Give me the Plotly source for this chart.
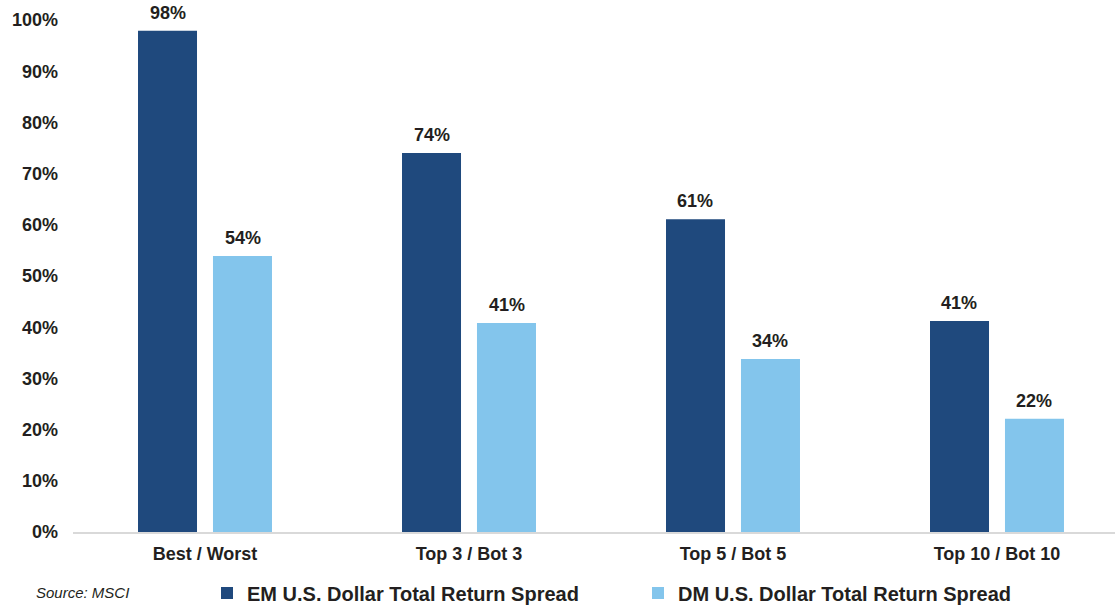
import plotly.graph_objects as go

categories = ["Best / Worst", "Top 3 / Bot 3", "Top 5 / Bot 5", "Top 10 / Bot 10"]
em_values = [97.9, 74.0, 61.1, 41.2]
dm_values = [53.9, 40.8, 33.8, 22.1]
em_name = "EM U.S. Dollar Total Return Spread"
dm_name = "DM U.S. Dollar Total Return Spread"
y_ticks = [0, 10, 20, 30, 40, 50, 60, 70, 80, 90, 100]
y_tick_labels = [f"{v}%" for v in y_ticks]

FONT = "Liberation Sans, Arial, sans-serif"
TXT = "#231F20"
EM_COLOR = "#1F497D"
DM_COLOR = "#83C5EC"

fig = go.Figure()
fig.add_trace(go.Bar(x=categories, y=em_values, name=em_name,
                     marker=dict(color=EM_COLOR, line=dict(width=0))))
fig.add_trace(go.Bar(x=categories, y=dm_values, name=dm_name,
                     marker=dict(color=DM_COLOR, line=dict(width=0))))

annotations = []
for vals, shift in ((em_values, -37.5), (dm_values, 37.5)):
    for c, v in zip(categories, vals):
        annotations.append(dict(
            x=c, y=v, xref="x", yref="y", text=f"<b>{v:.0f}%</b>",
            showarrow=False, xshift=shift, yanchor="bottom", yshift=6,
            font=dict(family=FONT, size=18, color=TXT),
        ))
annotations.append(dict(
    text="<i>Source: MSCI</i>", xref="paper", yref="paper",
    x=-0.037, y=-0.119, xanchor="left", yanchor="middle", showarrow=False,
    font=dict(family=FONT, size=15, color=TXT),
))

fig.update_layout(
    width=1115, height=605,
    margin=dict(l=73, r=0, t=20, b=73, autoexpand=False),
    paper_bgcolor="white", plot_bgcolor="white",
    barmode="group", bargap=0.432, bargroupgap=0.213,
    font=dict(family=FONT, color=TXT),
    showlegend=True,
    legend=dict(
        orientation="h", x=0.1286, xanchor="left", y=-0.119, yanchor="middle",
        entrywidth=386, entrywidthmode="pixels", itemwidth=30,
        font=dict(family=FONT, size=20, color=TXT, weight="bold"),
        bgcolor="rgba(0,0,0,0)",
    ),
    xaxis=dict(
        range=[-0.5, 3.447], showline=True, linecolor="#D9D9D9", linewidth=1.5,
        showgrid=False, ticks="", zeroline=False, automargin=False,
        ticklabelstandoff=5,
        tickfont=dict(family=FONT, size=18, color=TXT, weight="bold"),
    ),
    yaxis=dict(
        range=[0, 100], tickvals=y_ticks, ticktext=y_tick_labels, showgrid=False,
        zeroline=False, showline=False, ticks="", automargin=False,
        ticklabelstandoff=14,
        tickfont=dict(family=FONT, size=18, color=TXT, weight="bold"),
    ),
    annotations=annotations,
)

fig.write_html("out.html")
